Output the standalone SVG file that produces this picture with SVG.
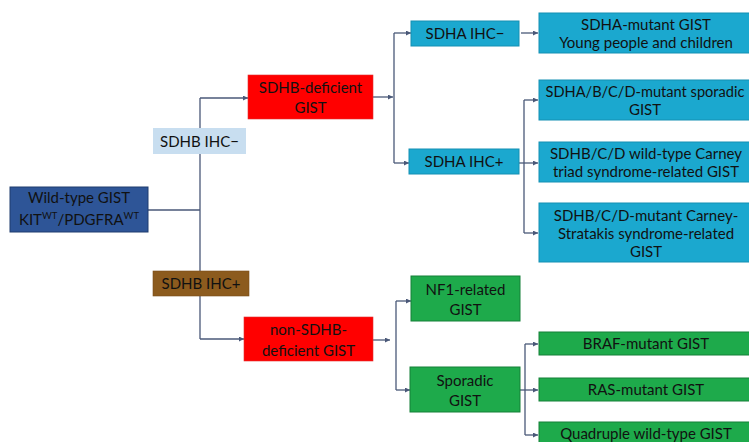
<svg xmlns="http://www.w3.org/2000/svg" width="749" height="442" viewBox="0 0 749 442">
<defs>
<marker id="ah" viewBox="0 0 6 6" refX="6" refY="3" markerWidth="5" markerHeight="5" orient="auto" markerUnits="userSpaceOnUse"><path d="M0,0 L6,3 L0,6 z" fill="#4a5878"/></marker>
<style>
.t{font-family:Lato,"Liberation Sans",sans-serif;font-size:15px;fill:#111;text-anchor:middle}
.t2{font-size:14.6px}
.c{fill:none;stroke:#4a5878;stroke-width:1.3}
.a{marker-end:url(#ah)}
.blue{fill:#2e5597;stroke:#1f3d6e;stroke-width:1}
.lb{fill:#c8def0}
.red{fill:#ff0000;stroke:#e03030;stroke-width:0.6}
.brown{fill:#8c5b1e;stroke:#7a4e18;stroke-width:0.6}
.cyan{fill:#1ba8cf;stroke:#1590b3;stroke-width:1}
.green{fill:#1eaa4b;stroke:#148039;stroke-width:1}
.sup{font-size:9.5px}
</style>
</defs>
<rect width="749" height="442" fill="#fff"/>
<g id="connectors">
<path class="c" d="M148,210 H200 M200,98 V339"/>
<path class="c a" d="M200,98 H248"/>
<path class="c a" d="M200,339 H244"/>
<path class="c a" d="M373,97 H393"/>
<path class="c" d="M394,33 V163"/>
<path class="c a" d="M394,33 H411"/>
<path class="c a" d="M394,163 H409"/>
<path class="c a" d="M521,33 H538"/>
<path class="c a" d="M519,163 H538"/>
<path class="c" d="M524,100 V233"/>
<path class="c a" d="M524,100 H538"/>
<path class="c a" d="M524,233 H538"/>
<path class="c a" d="M373,340 H390"/>
<path class="c" d="M396,301 V390"/>
<path class="c a" d="M396,301 H411"/>
<path class="c a" d="M396,390 H410"/>
<path class="c a" d="M520,390 H538"/>
<path class="c" d="M525,344 V435"/>
<path class="c a" d="M525,344 H538"/>
<path class="c a" d="M525,435 H538"/>
</g>
<g id="wildtype"><rect class="blue" x="10" y="187" width="138" height="45"/>
<text class="t" x="79" y="203">Wild-type GIST</text>
<text class="t" x="79" y="225">KIT<tspan class="sup" dy="-6">WT</tspan><tspan dy="6">/PDGFRA</tspan><tspan class="sup" dy="-6">WT</tspan></text></g>
<g id="sdhb-neg"><rect class="lb" x="153" y="128" width="93" height="26"/><text class="t" x="199.5" y="146.5">SDHB IHC−</text></g>
<g id="sdhb-pos"><rect class="brown" x="153" y="271" width="96" height="25"/><text class="t" x="201" y="289">SDHB IHC+</text></g>
<g id="sdhb-def"><rect class="red" x="248" y="75" width="125" height="44"/><text class="t" x="310.5" y="93">SDHB-deficient</text><text class="t" x="310.5" y="113">GIST</text></g>
<g id="non-sdhb"><rect class="red" x="244" y="317" width="129" height="44"/><text class="t" x="308.5" y="335">non-SDHB-</text><text class="t" x="308.5" y="356">deficient GIST</text></g>
<g id="sdha-neg"><rect class="cyan" x="411" y="21" width="108" height="25"/><text class="t" x="465" y="39">SDHA IHC−</text></g>
<g id="sdha-pos"><rect class="cyan" x="409" y="149" width="110" height="25"/><text class="t" x="464" y="167">SDHA IHC+</text></g>
<g id="sdha-mut"><rect class="cyan" x="539" y="13" width="215" height="40"/><text class="t" x="646" y="30">SDHA-mutant GIST</text><text class="t" x="646" y="48">Young people and children</text></g>
<g id="sdhabcd"><rect class="cyan" x="539" y="80" width="215" height="40"/><text class="t t2" x="645" y="97">SDHA/B/C/D-mutant sporadic</text><text class="t" x="645" y="115">GIST</text></g>
<g id="carney-triad"><rect class="cyan" x="539" y="142" width="215" height="40"/><text class="t" x="646" y="159">SDHB/C/D wild-type Carney</text><text class="t" x="646" y="177">triad syndrome-related GIST</text></g>
<g id="carney-stratakis"><rect class="cyan" x="539" y="203" width="215" height="59"/><text class="t" x="646" y="221">SDHB/C/D-mutant Carney-</text><text class="t" x="646" y="239">Stratakis syndrome-related</text><text class="t" x="646" y="257">GIST</text></g>
<g id="nf1"><rect class="green" x="411" y="276" width="109" height="45"/><text class="t" x="465.5" y="295">NF1-related</text><text class="t" x="465.5" y="315">GIST</text></g>
<g id="sporadic"><rect class="green" x="410" y="367" width="110" height="45"/><text class="t" x="465" y="386">Sporadic</text><text class="t" x="465" y="406">GIST</text></g>
<g id="braf"><rect class="green" x="539" y="332" width="215" height="23"/><text class="t" x="646" y="349">BRAF-mutant GIST</text></g>
<g id="ras"><rect class="green" x="539" y="378" width="215" height="23"/><text class="t" x="646" y="395">RAS-mutant GIST</text></g>
<g id="quad"><rect class="green" x="539" y="422" width="215" height="25"/><text class="t" x="646" y="439">Quadruple wild-type GIST</text></g>
</svg>
